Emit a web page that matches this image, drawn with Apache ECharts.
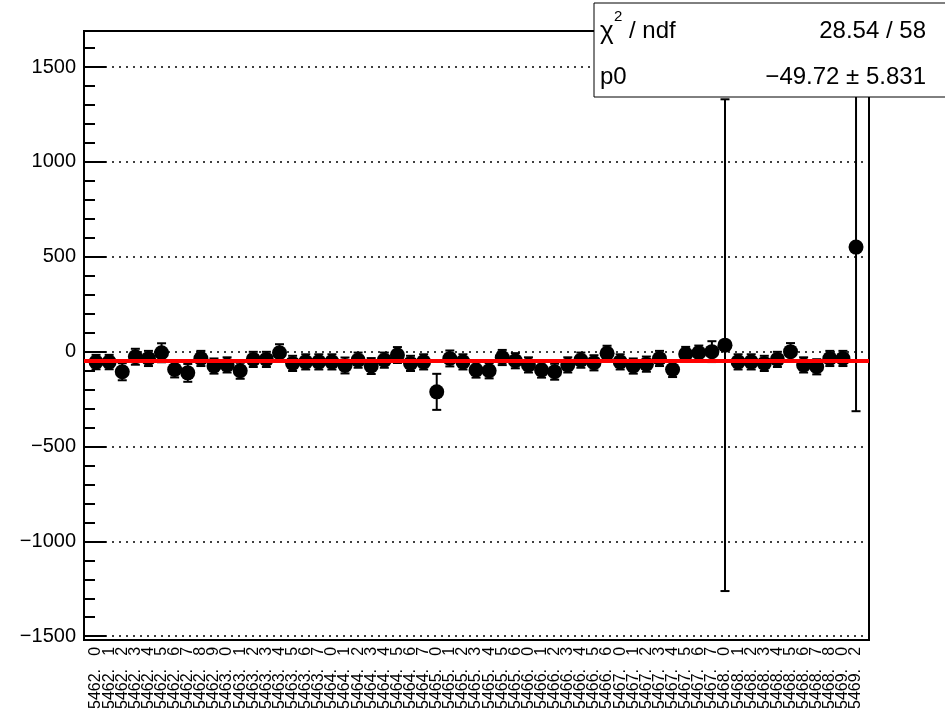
<!DOCTYPE html>
<html><head><meta charset="utf-8">
<script src="https://cdn.jsdelivr.net/npm/echarts@6/dist/echarts.min.js"></script>
<style>html,body{margin:0;padding:0;background:#fff}#c{width:945px;height:712px}</style>
</head><body><div id="c"></div>
<script>
const runLabels = [
  "5462. 0","5462. 1","5462. 2","5462. 3","5462. 4","5462. 5","5462. 6","5462. 7","5462. 8","5462. 9",
  "5463. 0","5463. 1","5463. 2","5463. 3","5463. 4","5463. 5","5463. 6","5463. 7",
  "5464. 0","5464. 1","5464. 2","5464. 3","5464. 4","5464. 5","5464. 6","5464. 7",
  "5465. 0","5465. 1","5465. 2","5465. 3","5465. 4","5465. 5","5465. 6",
  "5466. 0","5466. 1","5466. 2","5466. 3","5466. 4","5466. 5","5466. 6",
  "5467. 0","5467. 1","5467. 2","5467. 3","5467. 4","5467. 5","5467. 6","5467. 7",
  "5468. 0","5468. 1","5468. 2","5468. 3","5468. 4","5468. 5","5468. 6","5468. 7","5468. 8",
  "5469. 0","5469. 2"
];
const values = [
  -55, -55, -106, -27, -36, -6, -94, -112, -36, -76,
  -70, -101, -41, -41, -6, -62, -54, -54, -54, -73,
  -45, -76, -45, -18, -62, -54, -212, -36, -54, -97,
  -101, -31, -48, -70, -97, -106, -70, -45, -59, -9,
  -54, -76, -66, -36, -94, -13, -6, 0, 34, -54,
  -54, -62, -41, 0, -70, -80, -36, -36, 551
];
const errors = [
  38, 38, 45, 42, 40, 50, 42, 47, 40, 40,
  40, 42, 40, 40, 45, 40, 40, 40, 40, 42,
  40, 42, 40, 42, 40, 40, 95, 42, 40, 40,
  40, 40, 40, 40, 40, 42, 40, 40, 40, 40,
  40, 40, 40, 40, 40, 38, 38, 55, 1296, 40,
  40, 40, 40, 45, 40, 40, 40, 40, 865
];
const fitP0 = -49.72;
const statsValues = ["28.54 / 58", "\u221249.72 \u00b1 5.831"];
const yMajorTicks = [-1500, -1000, -500, 0, 500, 1000, 1500];
const yMinorTicks = [];
for (let v = -1500; v <= 1600; v += 100) yMinorTicks.push(v);

const FONT = 'Liberation Sans, Arial, sans-serif';
const chart = echarts.init(document.getElementById('c'));
const option = {
  backgroundColor: '#fff',
  animation: false,
  grid: [
    { left: 84, right: 76, top: 31, bottom: 72, show: true, borderColor: '#000', borderWidth: 2, containLabel: false },
    { left: 89.5, right: 82.4, top: 31, bottom: 72, show: false, containLabel: false }
  ],
  xAxis: [
    {
      type: 'value', min: -0.92, max: 58.99, gridIndex: 0,
      axisLine: { show: true, onZero: false, lineStyle: { color: '#000', width: 2 } },
      axisTick: { show: false }, axisLabel: { show: false }, splitLine: { show: false }
    },
    {
      type: 'category', data: runLabels, gridIndex: 1, boundaryGap: true,
      axisLine: { show: false, onZero: false }, axisTick: { show: false }, splitLine: { show: false },
      axisLabel: {
        interval: 0, rotate: 90, fontSize: 16, margin: 7, color: '#000', fontFamily: FONT,
        formatter: v => v.replace('. ', '.   ')
      }
    }
  ],
  yAxis: [
    {
      type: 'value', min: -1520, max: 1690, position: 'left', gridIndex: 0,
      axisLine: { show: true, onZero: false, lineStyle: { color: '#000', width: 2 } },
      axisTick: { show: true, inside: true, length: 22, customValues: yMajorTicks, lineStyle: { color: '#000', width: 2 } },
      axisLabel: { customValues: yMajorTicks, formatter: v => String(v).replace('-', '\u2212'), fontSize: 20, color: '#000', fontFamily: FONT, margin: 8 },
      splitLine: { show: true, lineStyle: { type: [2, 5], color: '#000', width: 1.5 } }
    },
    {
      type: 'value', min: -1520, max: 1690, position: 'left', gridIndex: 0,
      axisLine: { show: false, onZero: false },
      axisTick: { show: true, inside: true, length: 11, customValues: yMinorTicks, lineStyle: { color: '#000', width: 2 } },
      axisLabel: { show: false },
      splitLine: { show: false }
    },
    {
      type: 'value', gridIndex: 1, show: false
    }
  ],
  series: [
    {
      type: 'custom', z: 2, xAxisIndex: 0, yAxisIndex: 0,
      data: values.map((v, i) => [i, v, errors[i]]),
      encode: { x: 0, y: 1 },
      renderItem: function (params, api) {
        const i = api.value(0), v = api.value(1), e = api.value(2);
        const top = api.coord([i, v + e]);
        const bot = api.coord([i, v - e]);
        const cw = 4.5;
        const st = { stroke: '#000', lineWidth: 2 };
        return {
          type: 'group',
          children: [
            { type: 'line', shape: { x1: top[0], y1: top[1], x2: bot[0], y2: bot[1] }, style: st },
            { type: 'line', shape: { x1: top[0] - cw, y1: top[1], x2: top[0] + cw, y2: top[1] }, style: st },
            { type: 'line', shape: { x1: bot[0] - cw, y1: bot[1], x2: bot[0] + cw, y2: bot[1] }, style: st }
          ]
        };
      }
    },
    {
      type: 'scatter', z: 3, xAxisIndex: 0, yAxisIndex: 0,
      data: values.map((v, i) => [i, v]), symbol: 'circle', symbolSize: 15,
      itemStyle: { color: '#000', opacity: 1 }
    },
    {
      type: 'line', z: 4, xAxisIndex: 0, yAxisIndex: 0, data: [],
      markLine: {
        silent: true, symbol: 'none', animation: false,
        data: [{ yAxis: fitP0 }],
        lineStyle: { color: '#ff0000', width: 4, type: 'solid' },
        label: { show: false }
      }
    }
  ],
  graphic: [
    { type: 'rect', z: 100, x: 594, y: 3, shape: { width: 360, height: 94 }, style: { fill: '#fff', stroke: '#000', lineWidth: 1 } },
    { type: 'text', z: 101, x: 600, y: 32, style: { text: '\u03c7', font: '26px ' + FONT, fill: '#000', verticalAlign: 'middle' } },
    { type: 'text', z: 101, x: 614, y: 17, style: { text: '2', font: '15px ' + FONT, fill: '#000', verticalAlign: 'middle' } },
    { type: 'text', z: 101, x: 629, y: 31, style: { text: '/ ndf', font: '24px ' + FONT, fill: '#000', verticalAlign: 'middle' } },
    { type: 'text', z: 101, x: 926, y: 31, style: { text: statsValues[0], font: '24px ' + FONT, fill: '#000', align: 'right', verticalAlign: 'middle' } },
    { type: 'text', z: 101, x: 600, y: 77, style: { text: 'p0', font: '24px ' + FONT, fill: '#000', verticalAlign: 'middle' } },
    { type: 'text', z: 101, x: 926, y: 77, style: { text: statsValues[1], font: '24px ' + FONT, fill: '#000', align: 'right', verticalAlign: 'middle' } }
  ]
};
chart.setOption(option);
</script>
</body></html>
